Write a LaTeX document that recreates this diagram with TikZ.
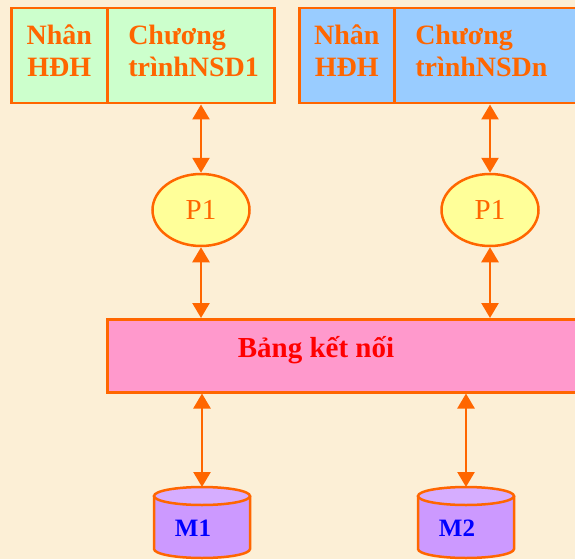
\documentclass[tikz,border=0pt]{standalone}
\usepackage{fontspec}
\setmainfont{Liberation Serif}
\usepackage{tikz}
\usetikzlibrary{shapes,arrows.meta,positioning}

\definecolor{cam}{HTML}{FF6600}
\definecolor{nen}{HTML}{FCEFD6}
\definecolor{xanhla}{HTML}{CCFFCC}
\definecolor{xanhduong}{HTML}{99CCFF}
\definecolor{vang}{HTML}{FFFF99}
\definecolor{hong}{HTML}{FF99CC}
\definecolor{tim}{HTML}{CC99FF}
\definecolor{timnhat}{HTML}{D6ADFF}

\begin{document}
\begin{tikzpicture}[x=1pt,y=-1pt]
		\tikzstyle{hop}=[draw=cam, line width=2.5pt, minimum height=95pt, inner sep=0pt, anchor=north west, text=cam, font=\fontsize{28}{30}\selectfont\bfseries, text height=21pt, text depth=43pt]
		\tikzstyle{nhan}=[hop, align=center]
		\tikzstyle{ct}=[hop, align=left, inner xsep=21pt]
		\tikzstyle{proc}=[ellipse, draw=cam, line width=2.5pt, fill=vang, minimum width=97pt, minimum height=72pt, inner sep=0pt, text=cam, font=\fontsize{29}{30}\selectfont]
		\tikzstyle{mem}=[draw=cam, line width=2.5pt]
		\tikzstyle{chu}=[text=blue, font=\fontsize{25}{27}\selectfont\bfseries, anchor=base]
		\tikzstyle{link}=[cam, line width=2.5pt, {Triangle[width=17pt,length=15pt]}-{Triangle[width=17pt,length=15pt]}]

		\useasboundingbox (0,0) rectangle (575,559);
		\fill[nen] (0,0) rectangle (575,559);
		\clip (0,0) rectangle (575,559);

		\node[nhan, fill=xanhla, text width=96pt] (K1) at (10,7) {Nhân\\[2pt]HĐH};
		\node[ct, fill=xanhla, text width=125pt] (U1) at (106,7) {Chương\\[2pt]trìnhNSD1};
		\node[nhan, fill=xanhduong, text width=95pt] (K2) at (298,7) {Nhân\\[2pt]HĐH};
		\node[ct, fill=xanhduong, text width=180pt] (U2) at (393,7) {Chương\\[2pt]trìnhNSDn};

		\node[proc] (P1) at (201,210) {P1};
		\node[proc] (P2) at (490,210) {P1};

		\node[draw=cam, line width=2.5pt, fill=hong, minimum width=520pt, minimum height=73pt, anchor=north west] (B) at (106,318) {};
		\node[text=red, font=\fontsize{29}{30}\selectfont\bfseries, anchor=base] (Bt) at (316,357) {Bảng kết nối};

		% hai khoi nho M1, M2
		\filldraw[mem, fill=tim] (154,496) -- (154,549) arc[start angle=180, end angle=0, x radius=48, y radius=9] -- (250,496);
		\filldraw[mem, fill=timnhat] (202,496) ellipse [x radius=48, y radius=9];
		\filldraw[mem, fill=tim] (418,496) -- (418,549) arc[start angle=180, end angle=0, x radius=48, y radius=9] -- (514,496);
		\filldraw[mem, fill=timnhat] (466,496) ellipse [x radius=48, y radius=9];
		\coordinate (D1) at (202,487);
		\coordinate (D2) at (466,487);
		\node[chu] (M1) at (193,536) {M1};
		\node[chu] (M2) at (457,536) {M2};

		\draw [link] (P1.north |- U1.south) to (P1.north);
		\draw [link] (P1.south) to (P1.south |- B.north);
		\draw [link] (P2.north |- U2.south) to (P2.north);
		\draw [link] (P2.south) to (P2.south |- B.north);
		\draw [link] (D1 |- B.south) to (D1);
		\draw [link] (D2 |- B.south) to (D2);
\end{tikzpicture}
\end{document}
